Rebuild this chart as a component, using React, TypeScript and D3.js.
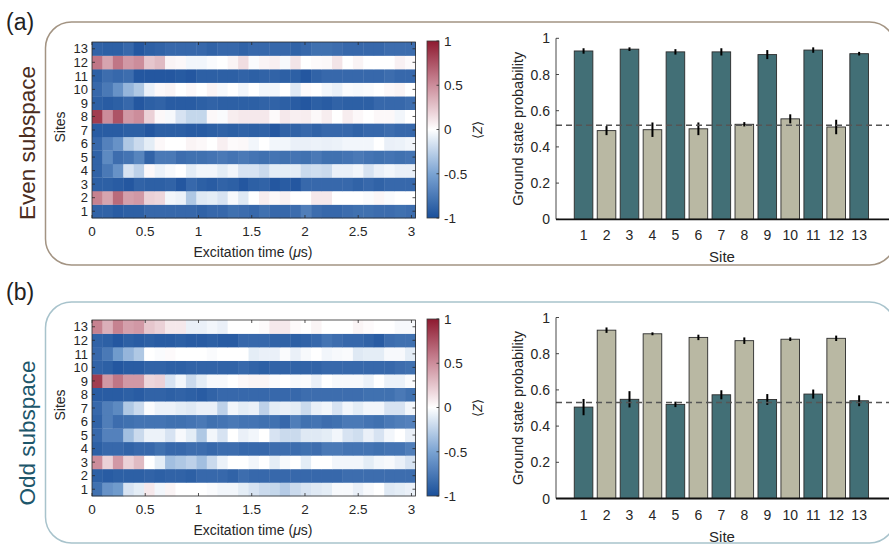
import React from "react";
import * as d3 from "d3";

// ---------- data ----------
const sites = [1, 2, 3, 4, 5, 6, 7, 8, 9, 10, 11, 12, 13];
const timeTicks = [0, 0.5, 1, 1.5, 2, 2.5, 3];
const timeTickLabels = ["0", "0.5", "1", "1.5", "2", "2.5", "3"];
const cbTicks = [1, 0.5, 0, -0.5, -1];
const probTicks = [0, 0.2, 0.4, 0.6, 0.8, 1];
const nTimes = 31;
const timeStep = 0.098;

// Even subspace <Z>, one array per site, 31 time points
const evenSite1 = [-0.88,-0.88,-0.92,-0.9,-0.9,-0.85,-0.85,-0.85,-0.85,-0.85,-0.88,-0.85,-0.85,-0.8,-0.82,-0.85,-0.8,-0.85,-0.85,-0.82,-0.72,-0.82,-0.85,-0.85,-0.82,-0.8,-0.8,-0.82,-0.82,-0.8,-0.82];
const evenSite2 = [0.55,0.4,0.65,0.42,0.45,0.2,0.18,-0.05,-0.07,-0.3,-0.12,-0.1,-0.15,-0.03,-0.12,0,0.08,0.03,0.06,0,0,0.1,0.1,0,0,0,-0.02,0.04,-0.02,0,0];
const evenSite3 = [-0.9,-0.9,-0.92,-0.95,-0.88,-0.9,-0.9,-0.88,-0.95,-0.85,-0.9,-0.92,-0.88,-0.9,-0.95,-0.9,-0.88,-0.95,-0.92,-0.95,-0.85,-0.85,-0.85,-0.85,-0.85,-0.88,-0.85,-0.88,-0.85,-0.85,-0.85];
const evenSite4 = [-0.88,-0.75,-0.6,-0.15,-0.25,0.03,-0.07,-0.03,0,-0.1,-0.05,-0.05,-0.1,-0.05,-0.15,-0.15,-0.2,-0.1,-0.1,-0.1,-0.2,-0.18,-0.2,-0.08,-0.08,-0.05,-0.15,-0.08,-0.05,-0.08,-0.08];
const evenSite5 = [-0.88,-0.65,-0.82,-0.78,-0.68,-0.88,-0.75,-0.75,-0.82,-0.8,-0.8,-0.78,-0.75,-0.78,-0.75,-0.78,-0.8,-0.78,-0.8,-0.78,-0.8,-0.75,-0.8,-0.8,-0.78,-0.75,-0.78,-0.8,-0.78,-0.8,-0.78];
const evenSite6 = [-0.85,-0.7,-0.6,-0.3,-0.2,-0.1,0.03,0,0,0.05,0.03,0,0.07,0.02,0.03,-0.05,0,-0.05,-0.05,-0.08,-0.08,-0.07,-0.08,-0.07,-0.05,-0.05,-0.05,0,-0.08,-0.07,-0.05];
const evenSite7 = [-0.92,-0.92,-0.92,-0.9,-0.9,-0.95,-0.9,-0.9,-0.9,-0.92,-0.92,-0.9,-0.88,-0.9,-0.88,-0.9,-0.88,-0.95,-0.88,-0.88,-0.85,-0.88,-0.85,-0.85,-0.85,-0.88,-0.85,-0.85,-0.82,-0.85,-0.85];
const evenSite8 = [0.85,0.5,0.75,0.45,0.5,0.2,0.03,-0.03,-0.15,-0.22,-0.22,0.03,-0.02,0.08,0.1,0.1,0.1,0.02,0.1,0.07,0.08,0.03,0.08,0,0.08,0.03,0,0.03,0.03,-0.05,0];
const evenSite9 = [-0.9,-0.92,-0.9,-0.85,-0.95,-0.9,-0.88,-0.92,-0.92,-0.92,-0.9,-0.88,-0.9,-0.9,-0.9,-0.9,-0.88,-0.88,-0.9,-0.92,-0.95,-0.9,-0.92,-0.88,-0.9,-0.9,-0.9,-0.85,-0.85,-0.85,-0.82];
const evenSite10 = [-0.85,-0.75,-0.6,-0.4,-0.3,-0.08,0.03,0.05,0,0.03,0,0.05,-0.03,0,-0.05,0,-0.05,-0.05,0,-0.12,0.02,0,-0.05,-0.08,-0.02,-0.03,-0.02,0,0.03,0.05,0];
const evenSite11 = [-0.9,-0.82,-0.85,-0.82,-0.95,-0.95,-0.95,-0.95,-0.93,-0.95,-0.9,-0.9,-0.9,-0.9,-0.88,-0.9,-0.88,-0.88,-0.9,-0.9,-0.95,-0.88,-0.85,-0.85,-0.85,-0.85,-0.85,-0.85,-0.82,-0.85,-0.85];
const evenSite12 = [0.6,0.4,0.6,0.45,0.5,0.25,0.3,0.05,0.03,-0.05,-0.05,-0.02,0,0.05,0.15,-0.02,0.05,0.07,-0.03,0.12,0,0.02,0.03,0.12,0,0.05,0,0,0,0.06,0.02];
const evenSite13 = [-0.88,-0.9,-0.9,-0.85,-0.95,-0.9,-0.88,-0.85,-0.85,-0.85,-0.85,-0.88,-0.85,-0.85,-0.88,-0.85,-0.85,-0.85,-0.85,-0.88,-0.85,-0.8,-0.8,-0.82,-0.85,-0.85,-0.85,-0.85,-0.82,-0.82,-0.82];

// Odd subspace <Z>
const oddSite1 = [-0.8,-0.6,-0.55,-0.15,-0.1,0.1,-0.05,0.05,0,0,0,-0.02,-0.05,-0.05,-0.1,-0.15,-0.2,-0.22,-0.28,-0.2,-0.15,-0.12,-0.1,-0.03,-0.03,-0.08,-0.03,0,-0.12,-0.1,-0.08];
const oddSite2 = [-0.9,-0.92,-0.9,-0.9,-0.9,-0.88,-0.9,-0.88,-0.88,-0.9,-0.85,-0.85,-0.85,-0.88,-0.82,-0.85,-0.85,-0.85,-0.85,-0.85,-0.85,-0.85,-0.85,-0.85,-0.82,-0.82,-0.82,-0.82,-0.82,-0.82,-0.82];
const oddSite3 = [0.5,0.2,0.45,0.2,0.3,0,-0.1,-0.35,-0.3,-0.25,-0.35,-0.2,-0.07,0,0,-0.05,0,-0.1,-0.03,0,-0.1,0,0,-0.05,-0.05,-0.05,-0.1,-0.05,-0.03,-0.08,-0.15];
const oddSite4 = [-0.9,-0.85,-0.85,-0.88,-0.85,-0.85,-0.8,-0.85,-0.85,-0.82,-0.82,-0.85,-0.82,-0.82,-0.85,-0.85,-0.85,-0.82,-0.82,-0.82,-0.8,-0.82,-0.75,-0.75,-0.78,-0.78,-0.78,-0.8,-0.78,-0.78,-0.72];
const oddSite5 = [-0.85,-0.7,-0.7,-0.35,-0.2,-0.07,-0.07,-0.15,-0.03,-0.1,-0.3,-0.05,-0.15,0,-0.08,-0.05,0,-0.15,-0.2,-0.2,-0.12,-0.12,-0.1,-0.05,-0.15,-0.18,-0.08,-0.15,-0.05,0,-0.08];
const oddSite6 = [-0.88,-0.72,-0.82,-0.8,-0.78,-0.78,-0.78,-0.8,-0.8,-0.78,-0.75,-0.8,-0.78,-0.75,-0.78,-0.78,-0.8,-0.8,-0.85,-0.72,-0.8,-0.78,-0.82,-0.8,-0.75,-0.75,-0.78,-0.8,-0.75,-0.72,-0.7];
const oddSite7 = [-0.85,-0.72,-0.65,-0.3,-0.2,-0.02,-0.07,-0.07,-0.1,-0.12,-0.08,-0.08,-0.25,-0.05,-0.1,-0.08,-0.25,-0.1,-0.08,-0.1,-0.2,-0.08,-0.05,-0.15,-0.05,-0.1,-0.05,-0.05,-0.15,-0.15,-0.05];
const oddSite8 = [-0.92,-0.92,-0.92,-0.9,-0.92,-0.88,-0.88,-0.9,-0.88,-0.9,-0.92,-0.88,-0.85,-0.85,-0.85,-0.85,-0.85,-0.85,-0.85,-0.85,-0.82,-0.82,-0.82,-0.82,-0.82,-0.82,-0.8,-0.8,-0.8,-0.75,-0.8];
const oddSite9 = [0.85,0.45,0.6,0.45,0.45,0.18,0.2,-0.15,-0.05,-0.2,-0.1,-0.03,-0.03,0,0.03,0.05,0.05,-0.02,0,-0.03,-0.02,-0.08,0,-0.03,-0.03,-0.03,-0.07,0,-0.07,-0.07,-0.02];
const oddSite10 = [-0.88,-0.9,-0.95,-0.92,-0.92,-0.88,-0.88,-0.9,-0.9,-0.88,-0.88,-0.88,-0.88,-0.88,-0.85,-0.88,-0.9,-0.88,-0.88,-0.88,-0.88,-0.88,-0.85,-0.85,-0.85,-0.85,-0.85,-0.85,-0.85,-0.82,-0.8];
const oddSite11 = [-0.85,-0.75,-0.55,-0.4,-0.3,0,-0.02,0.02,0,0,0,-0.02,0,0,0,-0.1,-0.08,-0.08,-0.02,-0.08,-0.03,0,-0.05,-0.03,-0.02,-0.12,-0.1,-0.1,-0.03,-0.03,-0.1];
const oddSite12 = [-0.88,-0.9,-0.95,-0.9,-0.92,-0.9,-0.92,-0.92,-0.9,-0.92,-0.92,-0.9,-0.92,-0.92,-0.85,-0.85,-0.85,-0.88,-0.88,-0.9,-0.88,-0.85,-0.78,-0.82,-0.85,-0.85,-0.88,-0.92,-0.82,-0.8,-0.8];
const oddSite13 = [0.55,0.35,0.55,0.42,0.45,0.25,0.2,0.1,0.1,-0.08,-0.08,-0.05,-0.08,0,0,0,0.02,0.1,0.1,0.02,0,0.05,0,0,0,0.05,0.02,0,0,-0.03,-0.03];

const evenRows = [evenSite1, evenSite2, evenSite3, evenSite4, evenSite5, evenSite6, evenSite7, evenSite8, evenSite9, evenSite10, evenSite11, evenSite12, evenSite13];
const oddRows = [oddSite1, oddSite2, oddSite3, oddSite4, oddSite5, oddSite6, oddSite7, oddSite8, oddSite9, oddSite10, oddSite11, oddSite12, oddSite13];

// Ground state probabilities
const evenProb = [0.93, 0.49, 0.94, 0.495, 0.925, 0.5, 0.925, 0.525, 0.91, 0.555, 0.935, 0.51, 0.915];
const evenErr = [0.015, 0.025, 0.01, 0.04, 0.015, 0.035, 0.02, 0.012, 0.025, 0.025, 0.015, 0.04, 0.01];
const evenRef = 0.52;
const oddProb = [0.505, 0.93, 0.548, 0.91, 0.52, 0.89, 0.573, 0.872, 0.547, 0.88, 0.577, 0.885, 0.54];
const oddErr = [0.045, 0.015, 0.045, 0.008, 0.015, 0.015, 0.025, 0.018, 0.03, 0.01, 0.025, 0.015, 0.03];
const oddRef = 0.53;

// ---------- styling ----------
const FONT = "'Liberation Sans', Arial, Helvetica, sans-serif";
const TEAL = "#426f76";
const BEIGE = "#b9b8a3";
const colorZ = d3
  .scaleLinear<string>()
  .domain([-1, -0.5, 0, 0.5, 1])
  .range(["#1a4f9a", "#7aa3d2", "#ffffff", "#cc8d9b", "#8e1a30"])
  .clamp(true);

const times = d3.range(nTimes).map((i) => i * timeStep);

function Heatmap({ rows, top, id }: { rows: number[][]; top: number; id: string }) {
  const h = 176;
  const x = d3.scaleLinear().domain([0, nTimes * timeStep]).range([92, 415.5]);
  const y = d3
    .scaleBand<number>()
    .domain([...sites].reverse())
    .range([top, top + h]);
  const cb = d3.scaleLinear().domain([-1, 1]).range([top + h, top - 1]);
  const cbX = 427;
  const cbW = 12;
  const stops = d3.range(0, 1.0001, 0.05);
  return (
    <g>
      <defs>
        <linearGradient id={id} x1="0" y1="1" x2="0" y2="0">
          {stops.map((s) => (
            <stop key={s} offset={s} stopColor={colorZ(-1 + 2 * s)} />
          ))}
        </linearGradient>
      </defs>
      {sites.map((s) =>
        rows[s - 1].map((v, i) => (
          <rect
            key={`${s}-${i}`}
            x={x(times[i])}
            y={y(s)}
            width={x(times[i] + timeStep) - x(times[i]) + 0.4}
            height={y.bandwidth() + 0.3}
            fill={colorZ(v)}
          />
        ))
      )}
      <rect x={92} y={top} width={323.5} height={h} fill="none" stroke="#2a2a2a" strokeWidth={0.8} />
      {sites.map((s) => (
        <g key={s}>
          <line x1={92} x2={95} y1={y(s)! + y.bandwidth() / 2} y2={y(s)! + y.bandwidth() / 2} stroke="#2a2a2a" strokeWidth={0.8} />
          <line x1={412.5} x2={415.5} y1={y(s)! + y.bandwidth() / 2} y2={y(s)! + y.bandwidth() / 2} stroke="#2a2a2a" strokeWidth={0.8} />
          <text x={88} y={y(s)! + y.bandwidth() / 2} dy="0.36em" textAnchor="end" fontSize={13} fill="#262626">
            {s}
          </text>
        </g>
      ))}
      {timeTicks.map((t, i) => (
        <g key={t}>
          <line x1={x(t)} x2={x(t)} y1={top + h} y2={top + h - 3} stroke="#2a2a2a" strokeWidth={0.8} />
          <line x1={x(t)} x2={x(t)} y1={top} y2={top + 3} stroke="#2a2a2a" strokeWidth={0.8} />
          <text x={x(t)} y={top + h + 18} textAnchor="middle" fontSize={13.5} fill="#262626">
            {timeTickLabels[i]}
          </text>
        </g>
      ))}
      <text x={253} y={top + h + 39} textAnchor="middle" fontSize={14} fill="#262626">
        Excitation time (<tspan fontStyle="italic">μ</tspan>s)
      </text>
      <text transform={`translate(65,${top + h / 2 - 3}) rotate(-90)`} textAnchor="middle" fontSize={14} fill="#262626">
        Sites
      </text>
      {/* colorbar */}
      <rect x={cbX} y={top - 1} width={cbW} height={h + 1} fill={`url(#${id})`} stroke="#3a3a3a" strokeWidth={0.8} />
      {cbTicks.map((t) => (
        <g key={t}>
          <line x1={cbX + cbW} x2={cbX + cbW - 2.5} y1={cb(t)} y2={cb(t)} stroke="#2a2a2a" strokeWidth={0.8} />
          <text x={cbX + cbW + 5} y={cb(t)} dy="0.36em" fontSize={13.5} fill="#262626">
            {t}
          </text>
        </g>
      ))}
      <text transform={`translate(482,${top + h / 2}) rotate(-90)`} textAnchor="middle" fontSize={13} fill="#262626">
        ⟨<tspan fontStyle="italic">Z</tspan>⟩
      </text>
    </g>
  );
}

function Bars({ probs, errs, ref0, top }: { probs: number[]; errs: number[]; ref0: number; top: number }) {
  const x = d3.scaleLinear().domain([-0.2, 14.3]).range([556, 889]);
  const y = d3.scaleLinear().domain([0, 1]).range([top + 181, top]);
  const bw = x(0.81) - x(0);
  return (
    <g>
      {sites.map((s, i) => (
        <g key={s}>
          <rect
            x={x(s) - bw / 2}
            y={y(probs[i])}
            width={bw}
            height={y(0) - y(probs[i])}
            fill={s % 2 === 1 ? TEAL : BEIGE}
            stroke="#2b2b2b"
            strokeWidth={0.9}
          />
          <line
            x1={x(s)}
            x2={x(s)}
            y1={y(probs[i] - errs[i])}
            y2={y(probs[i] + errs[i])}
            stroke="#000"
            strokeWidth={2}
          />
          <text x={x(s)} y={y(0) + 21} textAnchor="middle" fontSize={14} fill="#262626">
            {s}
          </text>
        </g>
      ))}
      <line x1={556} x2={889} y1={y(ref0)} y2={y(ref0)} stroke="#555" strokeWidth={1.4} strokeDasharray="6,4" />
      <line x1={556} x2={556} y1={y(0)} y2={y(1)} stroke="#333" strokeWidth={0.9} />
      {probTicks.map((t) => (
        <g key={t}>
          <line x1={556} x2={559} y1={y(t)} y2={y(t)} stroke="#333" strokeWidth={0.9} />
          <text x={550} y={y(t)} dy="0.36em" textAnchor="end" fontSize={14} fill="#262626">
            {t}
          </text>
        </g>
      ))}
      <line x1={556} x2={889} y1={y(0)} y2={y(0)} stroke="#111" strokeWidth={1.8} />
      <text x={722} y={y(0) + 43} textAnchor="middle" fontSize={15} fill="#262626">
        Site
      </text>
      <text transform={`translate(523,${y(0.5)}) rotate(-90)`} textAnchor="middle" fontSize={14.5} fill="#262626">
        Ground state probability
      </text>
    </g>
  );
}

export default function App() {
  return (
    <svg
      width={889}
      height={546}
      style={{ position: "absolute", left: 0, top: 0, background: "#fff" }}
      fontFamily={FONT}
    >
      <rect x={45.5} y={22} width={850} height={243} rx={26} fill="none" stroke="#a39483" strokeWidth={1.5} />
      <rect x={45.5} y={302} width={850} height={241} rx={26} fill="none" stroke="#a8c3cc" strokeWidth={1.5} />
      <text x={6} y={30} fontSize={23} fill="#222">(a)</text>
      <text x={6} y={300} fontSize={23} fill="#222">(b)</text>
      <text transform="translate(35,143) rotate(-90)" textAnchor="middle" fontSize={22.5} fill="#4a2c20">
        Even subspace
      </text>
      <text transform="translate(35,433) rotate(-90)" textAnchor="middle" fontSize={22.5} fill="#1d566a">
        Odd subspace
      </text>
      <Heatmap rows={evenRows} top={42} id="cbA" />
      <Heatmap rows={oddRows} top={320} id="cbB" />
      <Bars probs={evenProb} errs={evenErr} ref0={evenRef} top={38.3} />
      <Bars probs={oddProb} errs={oddErr} ref0={oddRef} top={317.5} />
    </svg>
  );
}
